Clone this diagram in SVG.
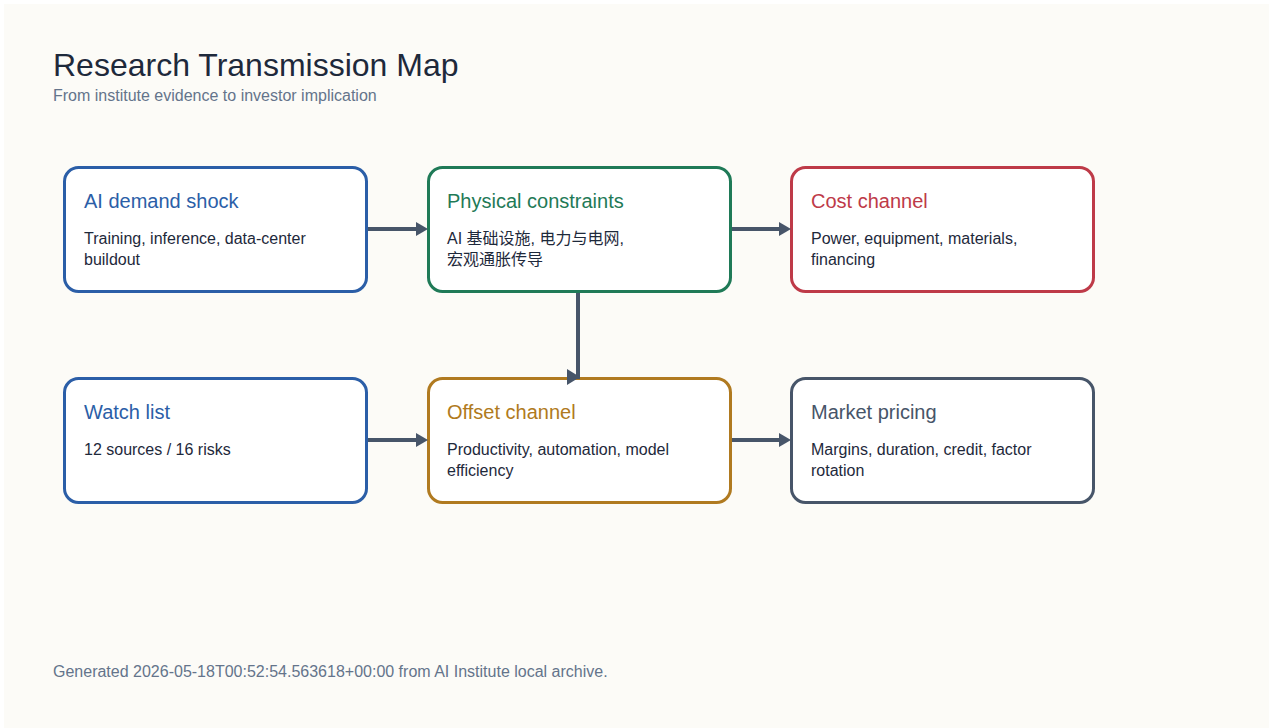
<svg xmlns="http://www.w3.org/2000/svg" width="1269" height="728" viewBox="0 0 1269 728">
<style>
.bg{fill:#fcfbf7}
.title{font-family:"Liberation Sans",Arial,sans-serif;font-size:32px;fill:#1e293b}
.sub{font-family:"Liberation Sans",Arial,sans-serif;font-size:16px;fill:#64748b}
.foot{font-family:"Liberation Sans",Arial,sans-serif;font-size:16px;fill:#64748b}
.box{fill:#ffffff;stroke-width:3}
.nt{font-family:"Liberation Sans",Arial,sans-serif;font-size:20px}
.nb{font-family:"Liberation Sans",Arial,"Noto Sans CJK SC",sans-serif;font-size:16px;fill:#1e293b}
.edge{stroke:#475569;stroke-width:4;fill:none}
.head{fill:#475569}
</style>
<rect x="0" y="0" width="1269" height="728" fill="#ffffff"/>
<rect class="bg" x="4" y="4" width="1265" height="724"/>
<text class="title" x="53" y="76">Research Transmission Map</text>
<text class="sub" x="53" y="101">From institute evidence to investor implication</text>
<g id="node-demand">
<rect class="box" x="64.5" y="167.5" width="302" height="124" rx="14" stroke="#2b5ea7"/>
<text class="nt" x="84" y="208" fill="#2b5ea7">AI demand shock</text>
<text class="nb" x="84" y="244">Training, inference, data-center</text>
<text class="nb" x="84" y="265">buildout</text>
</g>
<g id="node-physical">
<rect class="box" x="428.5" y="167.5" width="302" height="124" rx="14" stroke="#1f7a57"/>
<text class="nt" x="447" y="208" fill="#1f7a57">Physical constraints</text>
<text class="nb" x="447" y="244">AI 基础设施, 电力与电网,</text>
<text class="nb" x="447" y="265">宏观通胀传导</text>
</g>
<g id="node-cost">
<rect class="box" x="791.5" y="167.5" width="302" height="124" rx="14" stroke="#be3a48"/>
<text class="nt" x="811" y="208" fill="#be3a48">Cost channel</text>
<text class="nb" x="811" y="244">Power, equipment, materials,</text>
<text class="nb" x="811" y="265">financing</text>
</g>
<g id="node-watch">
<rect class="box" x="64.5" y="378.5" width="302" height="124" rx="14" stroke="#2b5ea7"/>
<text class="nt" x="84" y="419" fill="#2b5ea7">Watch list</text>
<text class="nb" x="84" y="455">12 sources / 16 risks</text>
</g>
<g id="node-offset">
<rect class="box" x="428.5" y="378.5" width="302" height="124" rx="14" stroke="#b07a20"/>
<text class="nt" x="447" y="419" fill="#b07a20">Offset channel</text>
<text class="nb" x="447" y="455">Productivity, automation, model</text>
<text class="nb" x="447" y="476">efficiency</text>
</g>
<g id="node-market">
<rect class="box" x="791.5" y="378.5" width="302" height="124" rx="14" stroke="#475569"/>
<text class="nt" x="811" y="419" fill="#475569">Market pricing</text>
<text class="nb" x="811" y="455">Margins, duration, credit, factor</text>
<text class="nb" x="811" y="476">rotation</text>
</g>
<g id="connectors">
<line class="edge" x1="368" y1="229" x2="418" y2="229"/>
<polygon class="head" points="416,222 428,229 416,236"/>
<line class="edge" x1="732" y1="229" x2="781" y2="229"/>
<polygon class="head" points="779,222 791,229 779,236"/>
<line class="edge" x1="578" y1="293" x2="578" y2="379"/>
<polygon class="head" points="567,369 580,377 567,385"/>
<line class="edge" x1="368" y1="440" x2="418" y2="440"/>
<polygon class="head" points="416,433 428,440 416,447"/>
<line class="edge" x1="732" y1="440" x2="781" y2="440"/>
<polygon class="head" points="779,433 791,440 779,447"/>
</g>
<text class="foot" x="53" y="677">Generated 2026-05-18T00:52:54.563618+00:00 from AI Institute local archive.</text>
</svg>
